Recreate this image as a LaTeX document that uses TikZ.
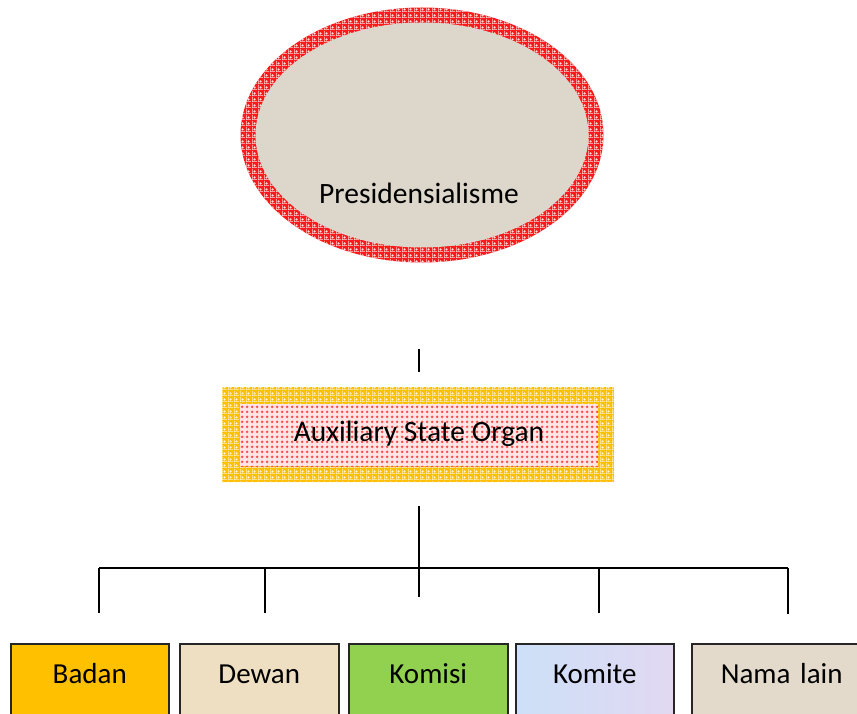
\documentclass[tikz,border=0pt]{standalone}
\usepackage{fontspec}
\setmainfont{Carlito}
\usetikzlibrary{shapes.geometric,patterns,patterns.meta}
\definecolor{ringred}{HTML}{FF1A1A}
\definecolor{paper}{HTML}{DDD6CA}
\definecolor{gold}{HTML}{FFC000}
\definecolor{papyrus}{HTML}{EEDFC2}
\definecolor{lime}{HTML}{92D050}
\definecolor{skyl}{HTML}{CCE0F7}
\definecolor{lavl}{HTML}{E2D8F2}
\definecolor{linen}{HTML}{E3DACB}
\tikzdeclarepattern{
  name=ringdots,
  type=uncolored,
  bounding box={(0pt,0pt) and (6pt,6pt)},
  tile size={(6pt,6pt)},
  code={
    \fill (3pt,3pt) circle (1.4pt);
    \fill (0pt,0pt) rectangle (6pt,0.7pt);
    \fill (0pt,0pt) rectangle (0.7pt,6pt);
  }
}
\tikzdeclarepattern{
  name=reddots,
  type=uncolored,
  bounding box={(0pt,0pt) and (5pt,5pt)},
  tile size={(5pt,5pt)},
  code={\fill (2.5pt,2.5pt) circle (1.7pt);}
}
\begin{document}
\begin{tikzpicture}[x=1pt,y=-1pt,
  lbl/.style={font=\fontsize{29.5}{31}\selectfont, text=black, inner sep=0pt, anchor=base},
  conn/.style={line width=1.6pt, draw=black},
  leaf/.style={draw=black!85, line width=1.5pt, anchor=north west, inner xsep=0pt, inner ysep=0pt,
    text height=40pt, text depth=40pt, font=\fontsize{29}{31}\selectfont, align=center}]
\useasboundingbox (0,0) rectangle (857,714);
\clip (0,0) rectangle (857,714);

% --- Presidensialisme ellipse
\node[ellipse, fill=ringred, minimum width=363pt, minimum height=255pt, inner sep=0pt] (presring) at (422,135) {};
\fill[pattern={ringdots}, pattern color=white!85!ringred] (422,135) ellipse [x radius=181.5pt, y radius=127.5pt];
\node[ellipse, fill=paper, minimum width=333pt, minimum height=225pt, inner sep=0pt] (pres) at (422,135) {};
\node[lbl] (prestext) at (419,204) {Presidensialisme};

% --- Auxiliary State Organ box
\node[rectangle, fill=gold, minimum width=392pt, minimum height=95pt, inner sep=0pt] (auxouter) at (418,434.5) {};
\fill[pattern={ringdots}, pattern color=white!80!gold] (222,387) rectangle (614,482);
\node[rectangle, fill=red!10, minimum width=358pt, minimum height=62pt, inner sep=0pt] (aux) at (419,435) {};
\fill[pattern={reddots}, pattern color=red!70] (240,404) rectangle (598,466);
\node[lbl] (auxtext) at (419,441) {Auxiliary State Organ};

% --- connectors
\coordinate (t1) at (419,349);
\coordinate (t2) at (419,372);
\draw[conn] (t1) -- (t2);
\coordinate (tr1) at (419,506);
\coordinate (tr2) at (419,597);
\draw[conn] (tr1) -- (tr2);
\coordinate (hL) at (99,568);
\coordinate (hR) at (788,568);
\draw[conn] (hL) -- (hR);
\coordinate (d1) at (99,613);
\coordinate (h2) at (265,568);
\coordinate (d2) at (265,613);
\coordinate (h4) at (599,568);
\coordinate (d4) at (599,613);
\coordinate (d5) at (788,614);
\draw[conn] (hL) -- (d1);
\draw[conn] (h2) -- (d2);
\draw[conn] (h4) -- (d4);
\draw[conn] (hR) -- (d5);

% --- leaves
\node[leaf, fill=gold, text width=158pt] (badan) at (10,643) {Badan};
\node[leaf, fill=papyrus, text width=159pt] (dewan) at (179,643) {Dewan};
\node[leaf, fill=lime, text width=159pt] (komisi) at (348,643) {Komisi};
\node[leaf, left color=skyl, right color=lavl, text width=158pt] (komite) at (515,643) {Komite};
\node[leaf, fill=linen, text width=180pt] (nama) at (691,643) {Nama lain};
\end{tikzpicture}
\end{document}
